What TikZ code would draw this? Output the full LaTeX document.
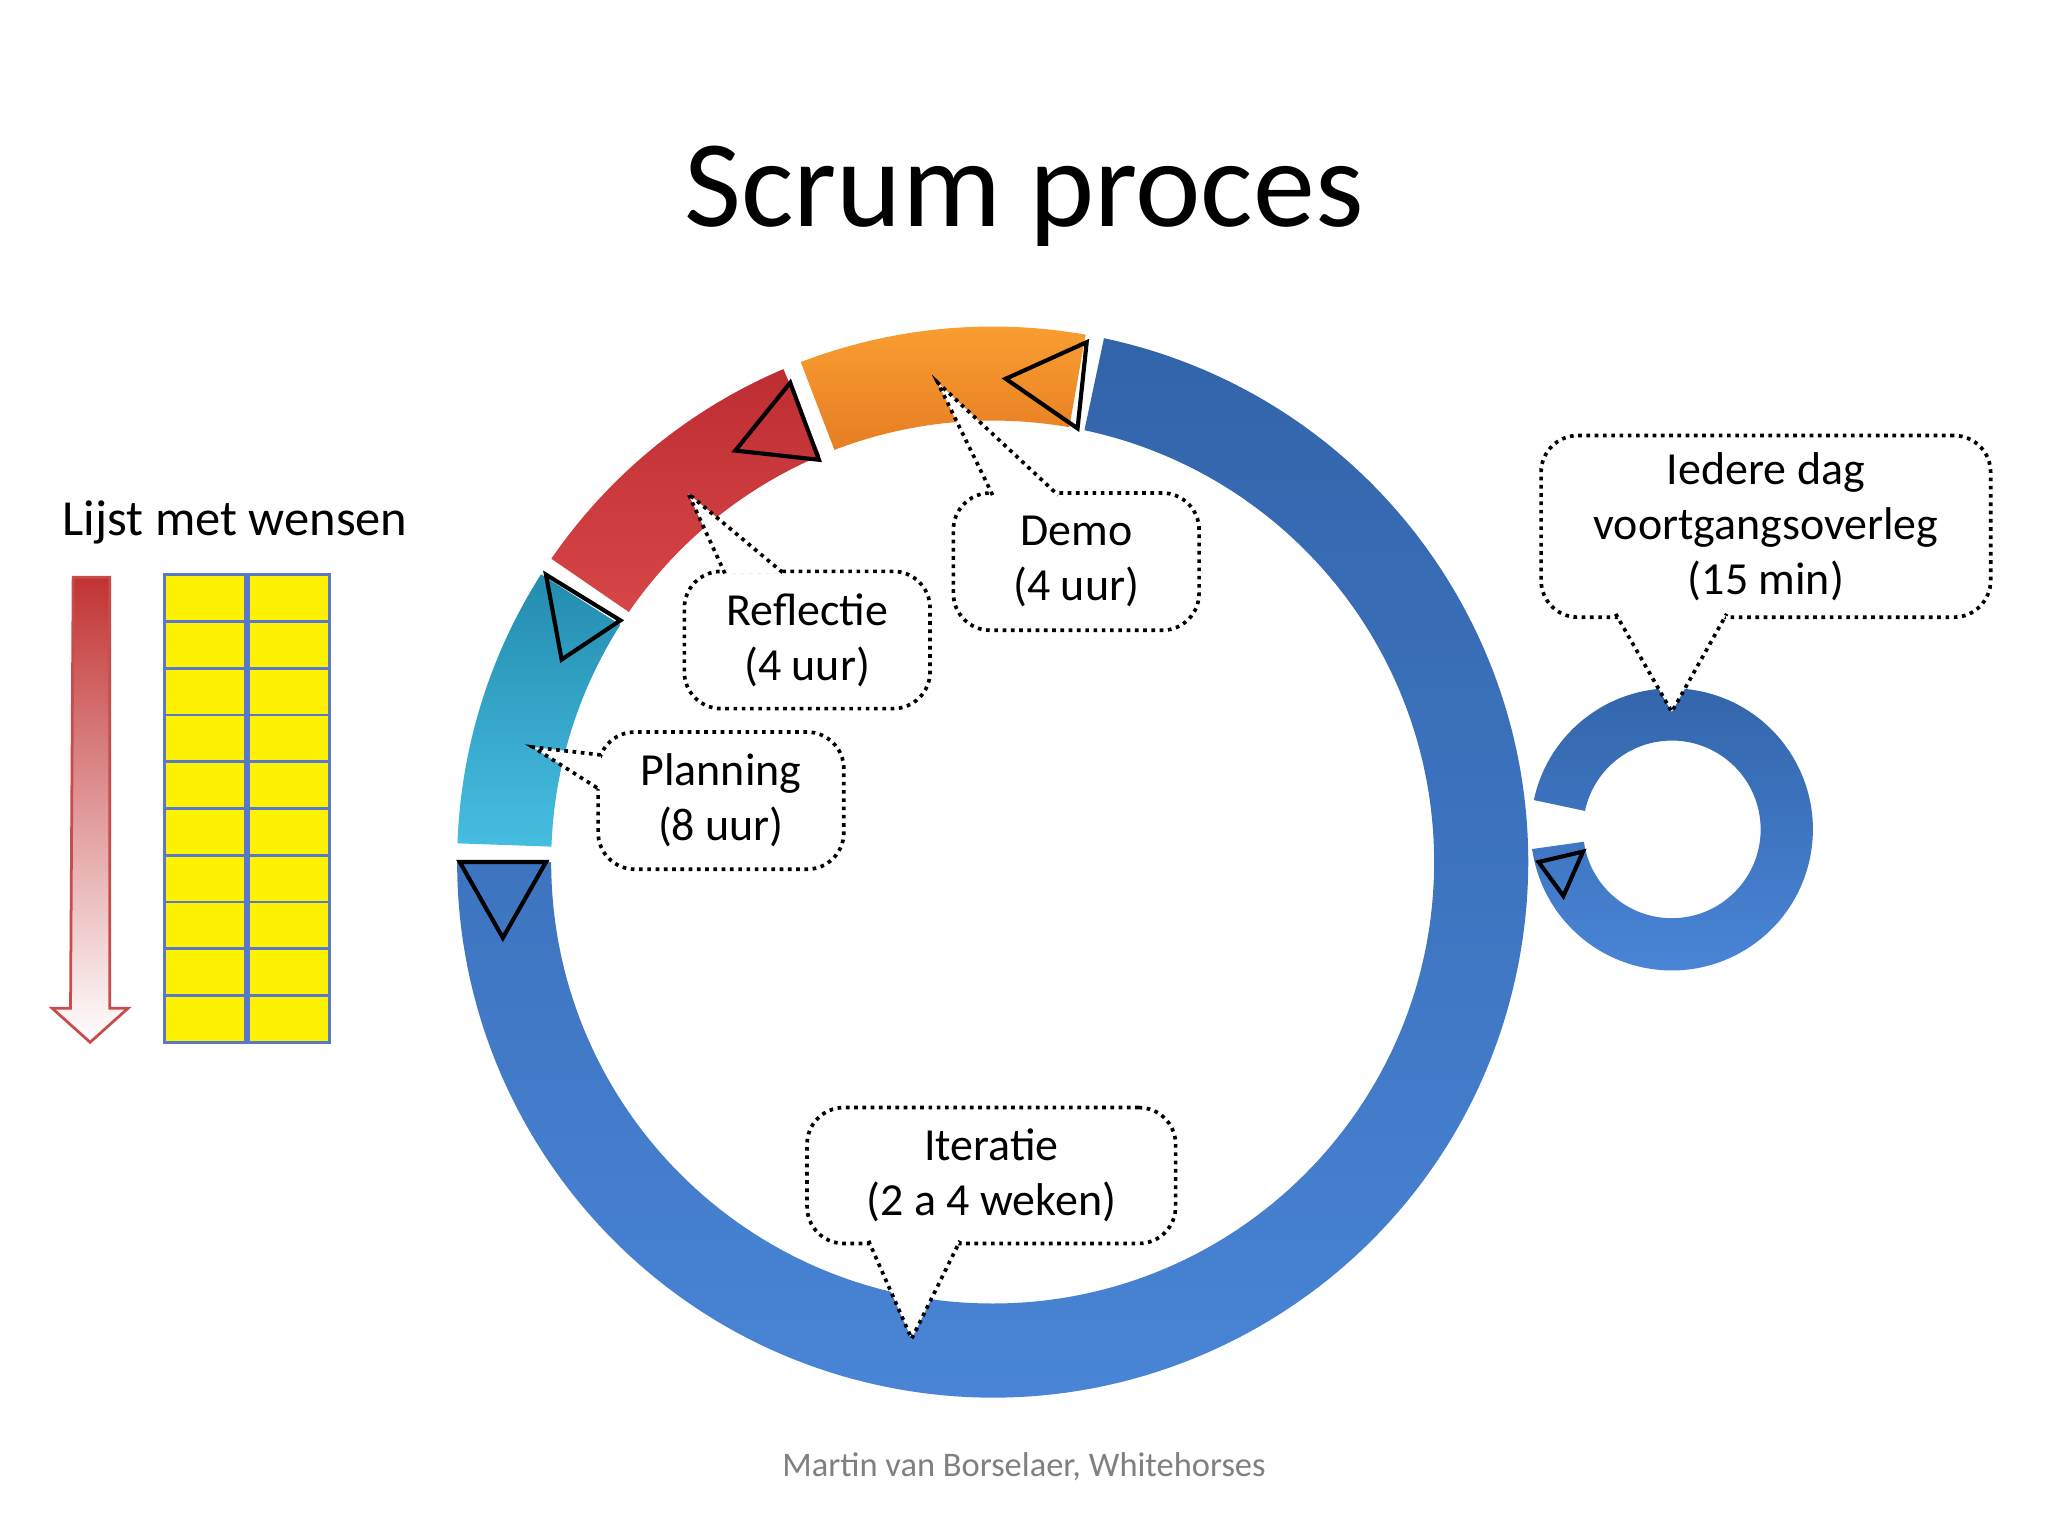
\documentclass[tikz,border=0pt]{standalone}
\usepackage{fontspec}
\setmainfont{Carlito}
\usetikzlibrary{calc}
\begin{document}
\begin{tikzpicture}[x=0.01cm,y=-0.01cm,
  callout/.style={draw,densely dotted,line width=0.8pt,rounded corners=8pt,fill=white,align=center,font=\fontsize{10}{12}\selectfont,inner sep=0pt},
  tri/.style={draw=black,line width=0.9pt,line join=miter},
  note/.style={fill=yellow,draw={rgb,255:red,90;green,120;blue,200},line width=0.6pt}]
\useasboundingbox (0,0) rectangle (1568,1176);
\node[font=\fontsize{27}{30}\selectfont] (title) at (784,150) {Scrum proces};
\node[font=\fontsize{11}{13}\selectfont] (lijst) at (180,400) {Lijst met wensen};
\node[font=\fontsize{7.5}{9}\selectfont,text=gray] (foot) at (784,1123) {Martin van Borselaer, Whitehorses};
% red arrow
\shade[top color=red!70!black!80, bottom color=white, draw=red!70!black!70, line width=0.6pt]
  (56,442) -- (84,442) -- (84,772) -- (98,772) -- (69,798) -- (40,772) -- (54,772) -- cycle;
% notes
\foreach \c in {0,1}{\foreach \r in {0,...,9}{
  \path[note] (126+\c*64,440+\r*35.8) rectangle ++(62,35.8);}}
% main ring
\coordinate (c) at (760,660);
\newcommand{\seg}[4]{\shade[top color=#3,bottom color=#4]
  ($(c)+(-#1:410)$) arc[start angle=-#1,end angle=-#2,radius=410] --
  ($(c)+(-#2:338)$) arc[start angle=-#2,end angle=-#1,radius=338] -- cycle;}
\shade[top color={rgb,255:red,50;green,100;blue,170}, bottom color={rgb,255:red,74;green,134;blue,216}]
  ($(c)+(-78:410)$) arc[start angle=-78,end angle=180,radius=410] --
  ($(c)+(180:338)$) arc[start angle=180,end angle=-78,radius=338] -- cycle;
\seg{178}{147.5}{{rgb,255:red,35;green,140;blue,175}}{{rgb,255:red,70;green,190;blue,225}}
\seg{145.5}{113}{{rgb,255:red,190;green,45;blue,50}}{{rgb,255:red,215;green,70;blue,70}}
\seg{111}{80}{{rgb,255:red,250;green,160;blue,50}}{{rgb,255:red,230;green,125;blue,35}}
% triangles
\draw[tri] (352,660) -- (418,660) -- (385,718) -- cycle;
\draw[tri] (418,440) -- (475,475) -- (430,505) -- cycle;
\draw[tri] (563,345) -- (605,293) -- (627,352) -- cycle;
\draw[tri] (770,290) -- (832,262) -- (825,328) -- cycle;
% small ring
\coordinate (s) at (1280,635);
\shade[top color={rgb,255:red,50;green,100;blue,170}, bottom color={rgb,255:red,74;green,134;blue,216}]
  ($(s)+(-168:108)$) arc[start angle=-168,end angle=172,radius=108] --
  ($(s)+(172:68)$) arc[start angle=172,end angle=-168,radius=68] -- cycle;
\draw[tri] (1178,660) -- (1212,652) -- (1197,686) -- cycle;
% callouts
\node[callout,minimum width=1.88cm,minimum height=1.05cm] (demo) at (824,430) {Demo\\(4 uur)};
\node[callout,minimum width=1.88cm,minimum height=1.05cm] (refl) at (618,490) {Reflectie\\(4 uur)};
\node[callout,minimum width=1.88cm,minimum height=1.05cm] (plan) at (552,613) {Planning\\(8 uur)};
\node[callout,minimum width=2.82cm,minimum height=1.04cm] (iter) at (759,900) {Iteratie\\(2 a 4 weken)};
\node[callout,minimum width=3.44cm,minimum height=1.39cm] (dag) at (1352,403) {Iedere dag\\voortgangsoverleg\\(15 min)};
\coordinate (tdemo) at (718,293);
\coordinate (trefl) at (527,378);
\coordinate (tplan) at (408,572);
\coordinate (titer) at (698,1025);
\coordinate (tdag) at (1280,545);
\newcommand{\ptr}[3]{\fill[white] #1 -- #3 -- #2 -- cycle;
  \draw[densely dotted,line width=0.8pt] #1 -- #3 -- #2;}
\ptr{(760,379)}{(810,379)}{(tdemo)}
\ptr{(555,439)}{(600,439)}{(trefl)}
\ptr{(460,578)}{(460,605)}{(tplan)}
\ptr{(665,950)}{(735,950)}{(titer)}
\ptr{(1237,470)}{(1322,470)}{(tdag)}
\end{tikzpicture}
\end{document}
